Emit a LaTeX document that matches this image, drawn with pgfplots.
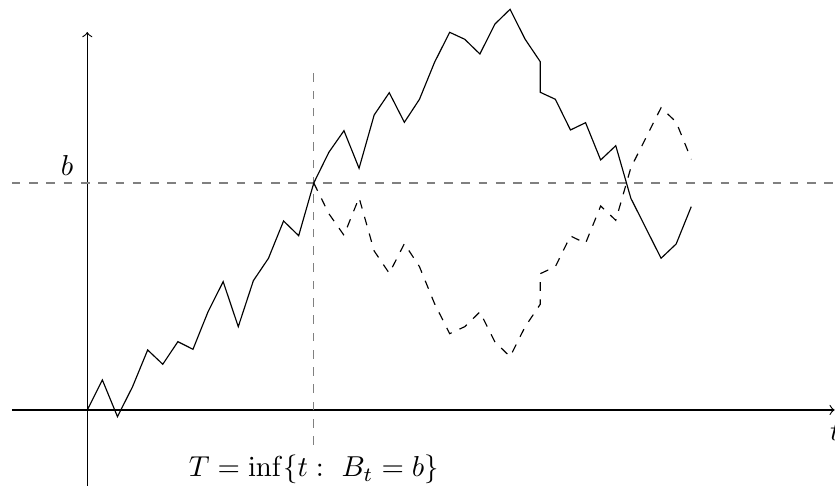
\documentclass[border=0pt]{standalone}
\usepackage{pgfplots}
\pgfplotsset{compat=1.18}

\begin{document}
\begin{tikzpicture}
\begin{axis}[
  x=5.24pt, y=0.347pt,
  axis lines=middle,
  inner axis line style={->},
  xmin=-5, xmax=49.5,
  ymin=-76, ymax=378,
  xtick=\empty, ytick=\empty,
  clip=false,
]
% level b and hitting time T
\addplot[gray, dashed] coordinates {(-5,227) (49.5,227)};
\addplot[gray, dashed] coordinates {(15,-35) (15,340)};

% sample path
\addplot[black, thin] coordinates {
  (0,0) (1,30) (2,-6.7) (3,23.3) (4,60) (5,45.7) (6,68.3) (7,60.7)
  (8,98.3) (9,128.3) (10,83.3) (11,129.3) (12,151.7) (13,189) (14,174.3)
  (15,227) (16,257.7) (17,279.3) (18,241.7) (19,295) (20,317.3) (21,287.7)
  (22,310.7) (23,347.7) (24,377.7) (25,370.7) (26,356) (27,386) (28,400.7)
  (29,370.7) (30,348.3) (30,317.7) (31,310.7) (32,280) (33,287.3) (34,250)
  (35,264.3) (36,211.7) (37,181.7) (38,151.7) (39,166) (40,203.3)
};

% reflected path after T
\addplot[black, thin, dashed] coordinates {
  (15,227) (16,196.3) (17,174.7) (18,212.3) (19,159) (20,136.7) (21,166.3)
  (22,143.3) (23,106.3) (24,76.3) (25,83.3) (26,98) (27,68) (28,53.3)
  (29,83.3) (30,105.7) (30,136.3) (31,143.3) (32,174) (33,166.7) (34,204)
  (35,189.7) (36,242.3) (37,272.3) (38,302.3) (39,288) (40,250.7)
};

\node at (axis cs:-1.34,244) {$b$};
\node[below] at (axis cs:15,-35) {$T=\inf\{t:\ B_t=b\}$};
\node[overlay, anchor=north west, inner sep=0pt] at (axis cs:49.15,-12) {$t$};

\coordinate (bbl) at (axis cs:-5.78,-79);
\coordinate (btr) at (axis cs:49.52,410);
\end{axis}
\pgfresetboundingbox
\path[use as bounding box] (bbl) rectangle (btr);
\end{tikzpicture}
\end{document}
